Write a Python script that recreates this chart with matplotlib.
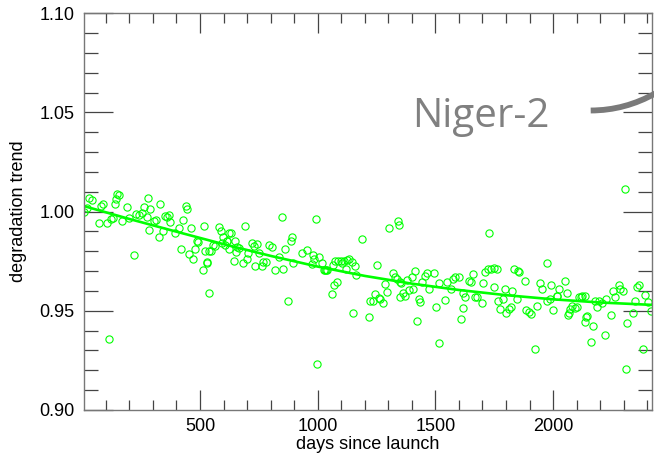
import numpy as np
import matplotlib
matplotlib.use("Agg")
import matplotlib.pyplot as plt
from matplotlib.path import Path
from matplotlib.patches import PathPatch
from matplotlib.ticker import MultipleLocator

# measured points (days since launch, degradation trend)
days = [7, 21, 30, 41, 72, 78, 87, 104, 112, 121, 129, 138, 143, 149, 155, 169, 189, 200,
        220, 228, 240, 254, 262, 274, 279, 285, 288, 305, 313, 325, 330, 342, 353, 361,
        370, 373, 392, 412, 418, 429, 440, 446, 452, 463, 471, 480, 488, 491, 511, 517,
        520, 528, 531, 537, 539, 548, 557, 565, 579, 590, 594, 599, 607, 613, 616, 622,
        625, 633, 645, 649, 653, 659, 667, 684, 692, 698, 704, 721, 728, 735, 741, 749,
        763, 769, 780, 794, 806, 820, 837, 847, 854, 862, 874, 885, 891, 896, 933, 956,
        975, 979, 984, 992, 998, 1007, 1018,
        1026, 1031, 1036, 1040, 1062, 1067, 1071, 1075, 1080, 1088, 1098, 1105, 1112,
        1120, 1125, 1135, 1146, 1151, 1157, 1163, 1188, 1220, 1223, 1235, 1245, 1253,
        1259, 1266, 1276, 1287, 1296, 1302, 1319, 1327, 1336, 1339, 1347, 1348, 1350,
        1355, 1361, 1372, 1381, 1387, 1401, 1406, 1415, 1423, 1432, 1435, 1443, 1454,
        1463, 1472, 1494, 1502, 1517, 1517, 1542, 1551, 1568, 1574, 1585, 1599, 1610,
        1616, 1619, 1627, 1644, 1652, 1661, 1670, 1678, 1698, 1703, 1712, 1725, 1729,
        1738, 1747, 1750, 1763, 1766, 1774, 1786, 1794, 1800, 1811, 1820, 1825, 1834,
        1845, 1851, 1856, 1882, 1885, 1896, 1907, 1922, 1930, 1944, 1955, 1973, 1976,
        1987, 1990, 1998, 2015, 2018, 2026, 2052, 2058, 2063, 2069, 2072, 2080, 2092,
        2100, 2109, 2120, 2123, 2134, 2137, 2140, 2145, 2162, 2171, 2179, 2188, 2196,
        2208, 2222, 2225, 2247, 2256, 2264, 2279, 2284, 2298, 2304, 2310, 2315, 2340,
        2349, 2355, 2366, 2381, 2392, 2403, 2417]
trend = [1.0000, 1.0018, 1.0068, 1.0058, 0.9942, 1.0028, 1.0041, 0.9942, 0.9360, 0.9964,
         0.9970, 1.0041, 1.0064, 1.0088, 1.0085, 0.9951, 1.0021, 0.9967, 0.9780, 0.9987,
         0.9984, 0.9991, 1.0021, 0.9974, 1.0068, 0.9910, 1.0011, 0.9951, 0.9957, 0.9870,
         1.0038, 0.9900, 0.9977, 0.9974, 0.9981, 0.9947, 0.9893, 0.9917, 0.9813, 0.9957,
         1.0031, 1.0011, 0.9786, 0.9917, 0.9762, 0.9810, 0.9850, 0.9846, 0.9705, 0.9930,
         0.9800, 0.9746, 0.9742, 0.9588, 0.9803, 0.9800, 0.9830, 0.9826, 0.9923, 0.9900,
         0.9840, 0.9870, 0.9833, 0.9850, 0.9850, 0.9893, 0.9810, 0.9893, 0.9749, 0.9853,
         0.9796, 0.9823, 0.9816, 0.9742, 0.9927, 0.9759, 0.9790, 0.9840, 0.9826, 0.9726,
         0.9836, 0.9790, 0.9726, 0.9746, 0.9746, 0.9833, 0.9823, 0.9705, 0.9769, 0.9974,
         0.9712, 0.9813, 0.9548, 0.9850, 0.9873, 0.9742, 0.9793, 0.9806, 0.9735, 0.9782,
         0.9759, 0.9962, 0.9232, 0.9769, 0.9742,
         0.9705, 0.9708, 0.9705, 0.9706, 0.9585, 0.9732, 0.9628, 0.9749, 0.9645, 0.9750,
         0.9750, 0.9743, 0.9750, 0.9709, 0.9755, 0.9760, 0.9745, 0.9490, 0.9726, 0.9679,
         0.9863, 0.9470, 0.9548, 0.9548, 0.9585, 0.9729, 0.9565, 0.9558, 0.9541, 0.9635,
         0.9595, 0.9917, 0.9689, 0.9672, 0.9659, 0.9954, 0.9934, 0.9645, 0.9568, 0.9638,
         0.9591, 0.9575, 0.9655, 0.9605, 0.9669, 0.9608, 0.9699, 0.9450, 0.9561, 0.9544,
         0.9645, 0.9675, 0.9689, 0.9608, 0.9689, 0.9520, 0.9638, 0.9340, 0.9554, 0.9645,
         0.9611, 0.9662, 0.9672, 0.9672, 0.9460, 0.9588, 0.9514, 0.9570, 0.9652, 0.9645,
         0.9685, 0.9570, 0.9568, 0.9541, 0.9641, 0.9695, 0.9710, 0.9890, 0.9713, 0.9618,
         0.9716, 0.9712, 0.9548, 0.9508, 0.9558, 0.9608, 0.9490, 0.9508, 0.9518, 0.9601,
         0.9709, 0.9561, 0.9699, 0.9695, 0.9649, 0.9503, 0.9496, 0.9486, 0.9310, 0.9524,
         0.9638, 0.9608, 0.9548, 0.9739, 0.9561, 0.9628, 0.9504, 0.9575, 0.9575, 0.9608,
         0.9652, 0.9588, 0.9480, 0.9490, 0.9510, 0.9526, 0.9513, 0.9520, 0.9568, 0.9572,
         0.9575, 0.9443, 0.9575, 0.9470, 0.9474, 0.9343, 0.9423, 0.9548, 0.9518, 0.9548,
         0.9541, 0.9377, 0.9561, 0.9477, 0.9601, 0.9568, 0.9628, 0.9611, 0.9601, 1.0115,
         0.9208, 0.9437, 0.9487, 0.9551, 0.9621, 0.9628, 0.9306, 0.9578, 0.9544, 0.9500]

# fitted trend curve
fit_days = [7, 200, 400, 600, 800, 1000, 1200, 1400, 1600, 1800, 2000, 2200, 2419]
fit_vals = [1.0028, 0.9963, 0.9899, 0.9836, 0.9777, 0.9723, 0.9676, 0.9637, 0.9605,
            0.9579, 0.9558, 0.9542, 0.9530]

xticks = [500, 1000, 1500, 2000]
yticks = [0.90, 0.95, 1.00, 1.05, 1.10]

W, H = 654, 458
fig = plt.figure(figsize=(W / 100, H / 100), dpi=100)
ax = fig.add_axes([84 / W, 1 - 410 / H, (651.7 - 84) / W, (410 - 13.3) / H])

green = "#00ff00"
ax.plot(days, trend, linestyle="none", marker="o", markersize=5.2,
        markerfacecolor="none", markeredgecolor=green, markeredgewidth=0.8)
ax.plot(fit_days, fit_vals, color=green, linewidth=1.9)

ax.set_xlim(7, 2419)
ax.set_ylim(0.90, 1.10)
ax.set_xticks(xticks)
ax.set_yticks(yticks)
ax.set_yticklabels(["%.2f" % v for v in yticks])
ax.xaxis.set_minor_locator(MultipleLocator(100))
ax.yaxis.set_minor_locator(MultipleLocator(0.01))

font = "Liberation Sans"
ax.tick_params(axis="both", which="both", direction="in", top=True, right=True,
               color="#444444", width=0.9, labelsize=13)
ax.tick_params(axis="x", which="major", length=14.4, pad=6)
ax.tick_params(axis="x", which="minor", length=7.2)
ax.tick_params(axis="y", which="major", length=20.9, pad=7)
ax.tick_params(axis="y", which="minor", length=10)
for lab in ax.get_xticklabels() + ax.get_yticklabels():
    lab.set_fontfamily(font)
for s in ax.spines.values():
    s.set_color("#777777")
    s.set_linewidth(1.0)

ax.set_xlabel("days since launch", fontsize=13, fontfamily=font)
ax.set_ylabel("degradation trend", fontsize=13, fontfamily=font)
ax.xaxis.set_label_coords(0.5, -0.065)
ax.yaxis.set_label_coords(-0.1, 0.5)

# overlay label and its connector
fig.text(411.7 / W, 1 - 127 / H, "Niger-2", fontsize=29, color="#808080",
         fontfamily="Open Sans", ha="left", va="baseline")
pts = [(590.7, 110.5), (625, 110.5), (656, 93)]
verts = [(x / W, 1 - y / H) for x, y in pts]
curve = Path(verts, [Path.MOVETO, Path.CURVE3, Path.CURVE3])
fig.add_artist(PathPatch(curve, facecolor="none", edgecolor="#7a7a7a", linewidth=4.2,
                         transform=fig.transFigure, clip_on=False))

fig.savefig("out.png", dpi=100)
